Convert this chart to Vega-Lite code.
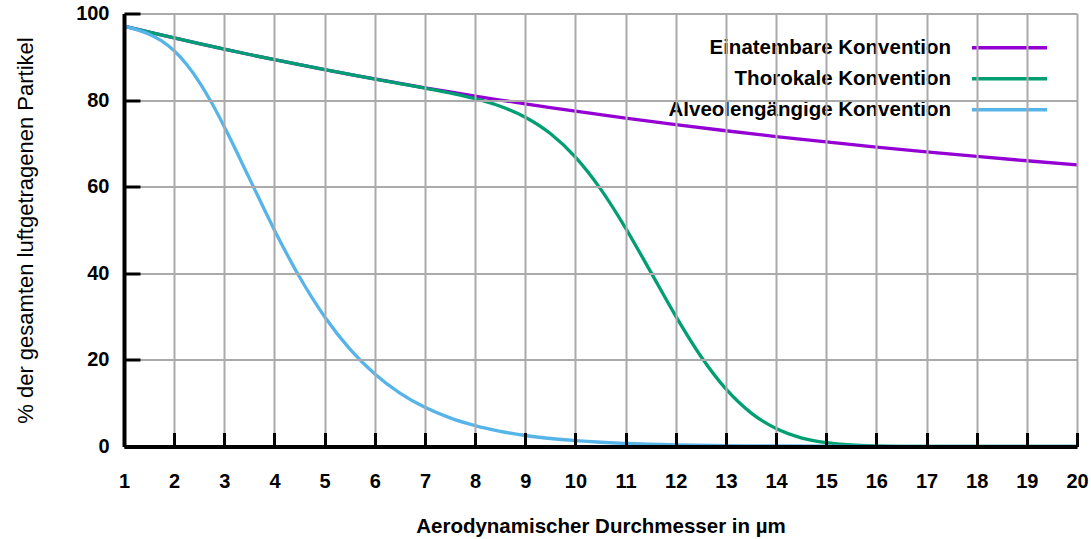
{
  "$schema": "https://vega.github.io/schema/vega-lite/v6.json",
  "width": 953,
  "height": 433,
  "autosize": {"type": "none"},
  "padding": {"left": 124, "top": 13.5, "right": 14, "bottom": 92.5},
  "background": "white",
  "config": {"view": {"stroke": null}, "font": "Liberation Sans"},
  "data": {
    "values": [
      {"d": 1, "v": 97.09, "k": "Einatembare Konvention"},
      {"d": 1.5, "v": 95.70, "k": "Einatembare Konvention"},
      {"d": 2, "v": 94.35, "k": "Einatembare Konvention"},
      {"d": 2.5, "v": 93.04, "k": "Einatembare Konvention"},
      {"d": 3, "v": 91.76, "k": "Einatembare Konvention"},
      {"d": 3.5, "v": 90.53, "k": "Einatembare Konvention"},
      {"d": 4, "v": 89.33, "k": "Einatembare Konvention"},
      {"d": 4.5, "v": 88.17, "k": "Einatembare Konvention"},
      {"d": 5, "v": 87.04, "k": "Einatembare Konvention"},
      {"d": 5.5, "v": 85.95, "k": "Einatembare Konvention"},
      {"d": 6, "v": 84.88, "k": "Einatembare Konvention"},
      {"d": 6.5, "v": 83.85, "k": "Einatembare Konvention"},
      {"d": 7, "v": 82.85, "k": "Einatembare Konvention"},
      {"d": 7.5, "v": 81.88, "k": "Einatembare Konvention"},
      {"d": 8, "v": 80.94, "k": "Einatembare Konvention"},
      {"d": 8.5, "v": 80.02, "k": "Einatembare Konvention"},
      {"d": 9, "v": 79.14, "k": "Einatembare Konvention"},
      {"d": 9.5, "v": 78.28, "k": "Einatembare Konvention"},
      {"d": 10, "v": 77.44, "k": "Einatembare Konvention"},
      {"d": 11, "v": 75.84, "k": "Einatembare Konvention"},
      {"d": 12, "v": 74.34, "k": "Einatembare Konvention"},
      {"d": 13, "v": 72.92, "k": "Einatembare Konvention"},
      {"d": 14, "v": 71.59, "k": "Einatembare Konvention"},
      {"d": 15, "v": 70.33, "k": "Einatembare Konvention"},
      {"d": 16, "v": 69.14, "k": "Einatembare Konvention"},
      {"d": 17, "v": 68.03, "k": "Einatembare Konvention"},
      {"d": 18, "v": 66.98, "k": "Einatembare Konvention"},
      {"d": 19, "v": 65.99, "k": "Einatembare Konvention"},
      {"d": 20, "v": 65.06, "k": "Einatembare Konvention"},

      {"d": 1, "v": 97.09, "k": "Thorokale Konvention"},
      {"d": 1.5, "v": 95.70, "k": "Thorokale Konvention"},
      {"d": 2, "v": 94.35, "k": "Thorokale Konvention"},
      {"d": 2.5, "v": 93.04, "k": "Thorokale Konvention"},
      {"d": 3, "v": 91.76, "k": "Thorokale Konvention"},
      {"d": 3.5, "v": 90.53, "k": "Thorokale Konvention"},
      {"d": 4, "v": 89.33, "k": "Thorokale Konvention"},
      {"d": 4.5, "v": 88.17, "k": "Thorokale Konvention"},
      {"d": 5, "v": 87.04, "k": "Thorokale Konvention"},
      {"d": 5.5, "v": 85.95, "k": "Thorokale Konvention"},
      {"d": 6, "v": 84.87, "k": "Thorokale Konvention"},
      {"d": 6.5, "v": 83.82, "k": "Thorokale Konvention"},
      {"d": 7, "v": 82.77, "k": "Thorokale Konvention"},
      {"d": 7.5, "v": 81.64, "k": "Thorokale Konvention"},
      {"d": 8, "v": 80.32, "k": "Thorokale Konvention"},
      {"d": 8.5, "v": 78.57, "k": "Thorokale Konvention"},
      {"d": 9, "v": 76.04, "k": "Thorokale Konvention"},
      {"d": 9.5, "v": 72.27, "k": "Thorokale Konvention"},
      {"d": 10, "v": 66.82, "k": "Thorokale Konvention"},
      {"d": 10.5, "v": 59.49, "k": "Thorokale Konvention"},
      {"d": 11, "v": 50.45, "k": "Thorokale Konvention"},
      {"d": 11.5, "v": 40.33, "k": "Thorokale Konvention"},
      {"d": 12, "v": 30.12, "k": "Thorokale Konvention"},
      {"d": 12.5, "v": 20.85, "k": "Thorokale Konvention"},
      {"d": 13, "v": 13.29, "k": "Thorokale Konvention"},
      {"d": 13.5, "v": 7.77, "k": "Thorokale Konvention"},
      {"d": 14, "v": 4.14, "k": "Thorokale Konvention"},
      {"d": 14.5, "v": 2.01, "k": "Thorokale Konvention"},
      {"d": 15, "v": 0.88, "k": "Thorokale Konvention"},
      {"d": 15.5, "v": 0.35, "k": "Thorokale Konvention"},
      {"d": 16, "v": 0.13, "k": "Thorokale Konvention"},
      {"d": 16.5, "v": 0.04, "k": "Thorokale Konvention"},
      {"d": 17, "v": 0.01, "k": "Thorokale Konvention"},
      {"d": 18, "v": 0, "k": "Thorokale Konvention"},
      {"d": 19, "v": 0, "k": "Thorokale Konvention"},
      {"d": 20, "v": 0, "k": "Thorokale Konvention"},

      {"d": 1, "v": 97.07, "k": "Alveolengängige Konvention"},
      {"d": 1.25, "v": 96.27, "k": "Alveolengängige Konvention"},
      {"d": 1.5, "v": 95.21, "k": "Alveolengängige Konvention"},
      {"d": 1.75, "v": 93.66, "k": "Alveolengängige Konvention"},
      {"d": 2, "v": 91.38, "k": "Alveolengängige Konvention"},
      {"d": 2.25, "v": 88.22, "k": "Alveolengängige Konvention"},
      {"d": 2.5, "v": 84.17, "k": "Alveolengängige Konvention"},
      {"d": 2.75, "v": 79.32, "k": "Alveolengängige Konvention"},
      {"d": 3, "v": 73.85, "k": "Alveolengängige Konvention"},
      {"d": 3.5, "v": 61.92, "k": "Alveolengängige Konvention"},
      {"d": 4, "v": 49.97, "k": "Alveolengängige Konvention"},
      {"d": 4.5, "v": 39.14, "k": "Alveolengängige Konvention"},
      {"d": 5, "v": 29.97, "k": "Alveolengängige Konvention"},
      {"d": 5.5, "v": 22.55, "k": "Alveolengängige Konvention"},
      {"d": 6, "v": 16.76, "k": "Alveolengängige Konvention"},
      {"d": 6.5, "v": 12.35, "k": "Alveolengängige Konvention"},
      {"d": 7, "v": 9.05, "k": "Alveolengängige Konvention"},
      {"d": 7.5, "v": 6.60, "k": "Alveolengängige Konvention"},
      {"d": 8, "v": 4.81, "k": "Alveolengängige Konvention"},
      {"d": 8.5, "v": 3.50, "k": "Alveolengängige Konvention"},
      {"d": 9, "v": 2.54, "k": "Alveolengängige Konvention"},
      {"d": 9.5, "v": 1.85, "k": "Alveolengängige Konvention"},
      {"d": 10, "v": 1.35, "k": "Alveolengängige Konvention"},
      {"d": 10.5, "v": 0.98, "k": "Alveolengängige Konvention"},
      {"d": 11, "v": 0.72, "k": "Alveolengängige Konvention"},
      {"d": 12, "v": 0.39, "k": "Alveolengängige Konvention"},
      {"d": 13, "v": 0.21, "k": "Alveolengängige Konvention"},
      {"d": 14, "v": 0.12, "k": "Alveolengängige Konvention"},
      {"d": 15, "v": 0.07, "k": "Alveolengängige Konvention"},
      {"d": 16, "v": 0.04, "k": "Alveolengängige Konvention"},
      {"d": 17, "v": 0.02, "k": "Alveolengängige Konvention"},
      {"d": 18, "v": 0.01, "k": "Alveolengängige Konvention"},
      {"d": 19, "v": 0.01, "k": "Alveolengängige Konvention"},
      {"d": 20, "v": 0, "k": "Alveolengängige Konvention"}
    ]
  },
  "encoding": {
    "x": {
      "field": "d",
      "type": "quantitative",
      "scale": {"domain": [1, 20], "nice": false, "zero": false},
      "axis": {
        "title": "Aerodynamischer Durchmesser in µm",
        "values": [1, 2, 3, 4, 5, 6, 7, 8, 9, 10, 11, 12, 13, 14, 15, 16, 17, 18, 19, 20],
        "format": "d",
        "grid": true,
        "gridColor": "#aaaaaa",
        "gridWidth": 2,
        "domainColor": "black",
        "domainWidth": 4,
        "tickColor": "black",
        "tickWidth": 3,
        "tickSize": -14,
        "labelFont": "Liberation Sans",
        "labelFontSize": 20,
        "labelFontWeight": "bold",
        "labelColor": "black",
        "labelPadding": 39,
        "labelFlush": false,
        "labelOverlap": false,
        "titleFont": "Liberation Sans",
        "titleFontSize": 20.5,
        "titleFontWeight": "bold",
        "titleColor": "black",
        "titlePadding": 25,
        "zindex": 1
      }
    },
    "y": {
      "field": "v",
      "type": "quantitative",
      "scale": {"domain": [0, 100], "nice": false},
      "axis": {
        "title": "% der gesamten luftgetragenen Partikel",
        "values": [0, 20, 40, 60, 80, 100],
        "grid": true,
        "gridColor": "#aaaaaa",
        "gridWidth": 2,
        "domainColor": "black",
        "domainWidth": 4,
        "tickColor": "black",
        "tickWidth": 3,
        "tickSize": -16,
        "labelFont": "Liberation Sans",
        "labelFontSize": 20,
        "labelFontWeight": "bold",
        "labelColor": "black",
        "labelPadding": 31,
        "labelFlush": false,
        "labelOverlap": false,
        "titleFont": "Liberation Sans",
        "titleFontSize": 22,
        "titleFontWeight": "normal",
        "titleColor": "black",
        "titlePadding": 38,
        "zindex": 1
      }
    },
    "color": {
      "field": "k",
      "type": "nominal",
      "scale": {
        "domain": ["Einatembare Konvention", "Thorokale Konvention", "Alveolengängige Konvention"],
        "range": ["#9400d3", "#009e73", "#56b4e9"]
      },
      "legend": {
        "title": null,
        "orient": "none",
        "legendX": 540,
        "legendY": 24,
        "direction": "vertical",
        "symbolType": "M-5,0H5",
        "symbolSize": 225,
        "symbolStrokeWidth": 3.3,
        "rowPadding": 10,
        "padding": 0,
        "fillColor": "white",
        "symbolOffset": 335.25,
        "labelOffset": -68.75,
        "labelAlign": "right",
        "labelFont": "Liberation Sans",
        "labelFontSize": 20.5,
        "labelFontWeight": "bold",
        "labelColor": "black",
        "labelLimit": 600
      }
    }
  },
  "layer": [
    {
      "transform": [{"filter": "datum.k === 'Einatembare Konvention'"}],
      "mark": {"type": "line", "strokeWidth": 3.3, "interpolate": "monotone"}
    },
    {
      "transform": [{"filter": "datum.k === 'Thorokale Konvention'"}],
      "mark": {"type": "line", "strokeWidth": 3.3, "interpolate": "monotone"}
    },
    {
      "transform": [{"filter": "datum.k === 'Alveolengängige Konvention'"}],
      "mark": {"type": "line", "strokeWidth": 3.3, "interpolate": "monotone"}
    }
  ]
}
